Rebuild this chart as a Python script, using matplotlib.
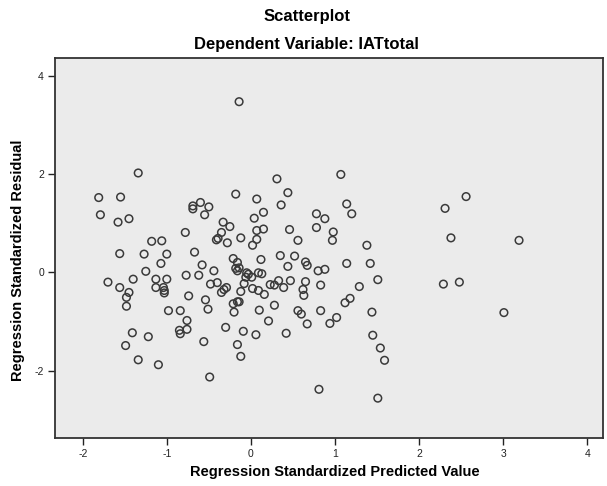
import matplotlib
matplotlib.use('Agg')
import matplotlib.pyplot as plt

# Regression standardized predicted value (x) and residual (y)
pred = [-0.14, -1.34, -1.81, -1.55, -1.79, -1.58, -1.45, -1.18, -1.06, -0.78,
        -0.69, -0.69, -0.60, -0.50, -0.55, -0.33, -0.25, -0.35, -0.41, -0.39,
        -0.28, -0.18, 0.07, 0.04, 0.07, -0.12, 0.02, 0.07, 0.31, 1.07,
        0.44, 0.36, 0.15, 0.15, 0.46, 0.56, 0.78, 0.88, 0.78, 0.98,
        0.97, 1.14, 1.20, 1.38, 2.56, 2.31, 2.38, 3.19,
        1.14, 1.42, 1.51, 1.29, 1.18, 1.12, 1.02, 0.94, 1.44, 1.45,
        1.54, 1.59, 1.51, 2.29, 2.48, 3.01,
        -0.67, -0.58, -0.77, -0.62, -0.44, -0.21, -0.16, -0.18, -0.16, -0.14,
        0.12, 0.35, 0.52, 0.44, 0.65, 0.67, 0.80, 0.88, -0.48, -0.40,
        -0.35, -0.32, -0.29, -0.05, -0.03, 0.01, 0.09, 0.13, -0.08, 0.02,
        0.09, 0.16, -0.12, 0.23, 0.28, 0.33, 0.39, 0.47, 0.65, 0.62,
        0.63, 0.83, -0.74, -0.54, -0.51, -0.84, -0.76, -0.85, -0.76, -0.21,
        -0.16, -0.14, -0.20, 0.10, 0.28, 0.21, 0.56, 0.60, 0.67, 0.83,
        -0.30, -0.09, 0.06, 0.42, -0.56, -0.16, -0.12, -0.49, 0.81,
        -1.56, -1.27, -1.00, -1.07, -1.25, -1.70, -1.40, -1.13, -1.00, -1.56,
        -1.45, -1.48, -1.48, -1.13, -1.04, -1.03, -1.03, -0.98, -0.84, -1.41,
        -1.22, -1.49, -1.34, -1.10, -0.06]
resid = [3.47, 2.02, 1.52, 1.53, 1.17, 1.02, 1.09, 0.63, 0.64, 0.81,
         1.35, 1.29, 1.42, 1.33, 1.17, 1.02, 0.93, 0.81, 0.66, 0.69,
         0.60, 1.59, 1.49, 1.10, 0.85, 0.70, 0.55, 0.67, 1.90, 1.99,
         1.62, 1.37, 1.22, 0.88, 0.87, 0.65, 1.19, 1.09, 0.91, 0.82,
         0.65, 1.39, 1.19, 0.55, 1.54, 1.30, 0.70, 0.65,
         0.18, 0.18, -0.15, -0.29, -0.53, -0.62, -0.92, -1.04, -0.81, -1.28,
         -1.54, -1.79, -2.56, -0.24, -0.20, -0.82,
         0.41, 0.15, -0.06, -0.06, 0.03, 0.28, 0.20, 0.08, 0.03, 0.09,
         0.26, 0.34, 0.33, 0.12, 0.21, 0.14, 0.03, 0.06, -0.24, -0.21,
         -0.41, -0.35, -0.31, -0.01, -0.04, -0.10, -0.01, -0.03, -0.23, -0.33,
         -0.37, -0.45, -0.39, -0.25, -0.26, -0.17, -0.31, -0.17, -0.19, -0.35,
         -0.47, -0.26, -0.48, -0.56, -0.75, -0.78, -0.98, -1.18, -1.16, -0.64,
         -0.60, -0.60, -0.81, -0.77, -0.67, -0.99, -0.78, -0.85, -1.05, -0.78,
         -1.12, -1.20, -1.27, -1.24, -1.41, -1.47, -1.71, -2.13, -2.38,
         0.38, 0.37, 0.37, 0.18, 0.02, -0.20, -0.14, -0.14, -0.14, -0.31,
         -0.41, -0.51, -0.69, -0.31, -0.31, -0.37, -0.42, -0.78, -1.25, -1.23,
         -1.31, -1.49, -1.78, -1.88, -0.10]

x_ticks = [-2, -1, 0, 1, 2, 3, 4]
y_ticks = [-2, 0, 2, 4]

plt.rcParams['font.family'] = ['Liberation Sans', 'DejaVu Sans']
plt.rcParams['axes.unicode_minus'] = False  # SPSS prints plain hyphens

fig = plt.figure(figsize=(6.07, 4.86), dpi=100)
ax = fig.add_axes([0.0906, 0.0988, 0.903, 0.782])
ax.set_facecolor('#ebebeb')

ax.scatter(pred, resid, s=30, facecolors='none', edgecolors='#3a3a3a', linewidths=1.1, zorder=3)

ax.set_xlim(-2.33, 4.19)
ax.set_ylim(-3.37, 4.36)
ax.set_xticks(x_ticks)
ax.set_yticks(y_ticks)
ax.tick_params(direction='out', length=5, width=1, labelsize=7.5, colors='#222222', pad=3)

for s in ax.spines.values():
    s.set_color('#333333')
    s.set_linewidth(1.3)

ax.set_xlabel('Regression Standardized Predicted Value', fontsize=10.5, fontweight='bold')
ax.xaxis.label.set_va('center')
ax.xaxis.set_label_coords(0.511, -0.089)
ax.set_ylabel('Regression Standardized Residual', fontsize=10.5, fontweight='bold')
ax.yaxis.label.set_va('center')
ax.yaxis.set_label_coords(-0.0675, 0.468)

fig.text(0.505, 1 - 17 / 486, 'Scatterplot', ha='center', va='center', fontsize=12, fontweight='bold')
fig.text(0.505, 1 - 44 / 486, 'Dependent Variable: IATtotal', ha='center', va='center', fontsize=12, fontweight='bold')

fig.savefig('out.png', dpi=100)
